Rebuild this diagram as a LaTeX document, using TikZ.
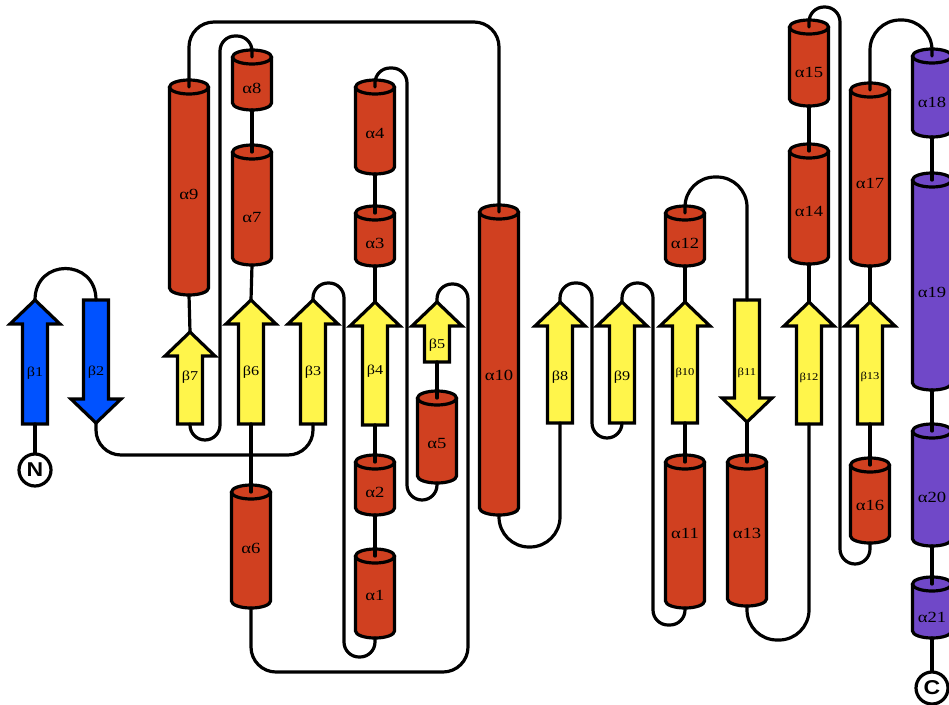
\documentclass[tikz,border=0pt]{standalone}
\usepackage{fontspec}
\setmainfont{Liberation Serif}
\newfontfamily\labf[FakeStretch=1.2]{Liberation Serif}
\newfontfamily\termf[FakeStretch=1.15]{Liberation Sans}
\definecolor{hred}{RGB}{208,64,32}
\definecolor{hpur}{RGB}{112,72,200}
\definecolor{sblu}{RGB}{0,82,255}
\definecolor{syel}{RGB}{255,245,75}
\tikzset{
 outl/.style={line width=3.2pt, line join=miter, draw=black},
 conn/.style={line width=3.2pt, line cap=round, draw=black},
 hbox/.style={minimum width=39pt, inner sep=0pt, outer sep=0pt},
 sbox/.style={minimum width=50pt, inner sep=0pt, outer sep=0pt},
 alab/.style={font=\labf\fontsize{15.5}{15.5}\selectfont, inner sep=0pt},
 slab/.style={font=\labf\fontsize{13.5}{13.5}\selectfont, inner sep=0pt},
 term/.style={circle, draw, line width=3.2pt, fill=white, minimum size=32pt, inner sep=0pt, font=\termf\bfseries\fontsize{20}{20}\selectfont}
}
\newcommand\smb[1]{{\fontsize{10.5}{10.5}\selectfont #1}}
% helix: name, x, ytop, ybottom, label, colour, label y
\newcommand\hlx[7]{%
  \pgfmathsetmacro\hlxb{#4-7}%
  \fill[#6] ({#2-19.5},#3) -- ({#2-19.5},\hlxb) .. controls ({#2-19.5},{\hlxb+3.9}) and ({#2-10.8},{\hlxb+7}) .. (#2,{\hlxb+7}) .. controls ({#2+10.8},{\hlxb+7}) and ({#2+19.5},{\hlxb+3.9}) .. ({#2+19.5},\hlxb) -- ({#2+19.5},#3) -- cycle;
  \draw[outl] ({#2-19.5},#3) -- ({#2-19.5},\hlxb) .. controls ({#2-19.5},{\hlxb+3.9}) and ({#2-10.8},{\hlxb+7}) .. (#2,{\hlxb+7}) .. controls ({#2+10.8},{\hlxb+7}) and ({#2+19.5},{\hlxb+3.9}) .. ({#2+19.5},\hlxb) -- ({#2+19.5},#3);
  \draw[outl,fill=#6] (#2,#3) ellipse[x radius=19.5,y radius=7];
  \node[hbox,minimum height={#4-#3}] (#1) at (#2,{(#3+#4)/2}) {};
  \node[alab] at (#2,#7) {#5};
}
% strand up: name, x, ytip, ybottom, label, colour, label y
\newcommand\stup[7]{%
  \draw[outl,fill=#6] (#2,#3) -- ({#2+25},{#3+24}) -- ({#2+12.5},{#3+24}) -- ({#2+12.5},#4) -- ({#2-12.5},#4) -- ({#2-12.5},{#3+24}) -- ({#2-25},{#3+24}) -- cycle;
  \node[sbox,minimum height={#4-#3}] (#1) at (#2,{(#3+#4)/2}) {};
  \node[slab] at (#2,#7) {#5};
}
% strand down: name, x, ytop, ytip, label, colour, label y
\newcommand\stdn[7]{%
  \draw[outl,fill=#6] (#2,#4) -- ({#2+25},{#4-24}) -- ({#2+12.5},{#4-24}) -- ({#2+12.5},#3) -- ({#2-12.5},#3) -- ({#2-12.5},{#4-24}) -- ({#2-25},{#4-24}) -- cycle;
  \node[sbox,minimum height={#4-#3}] (#1) at (#2,{(#3+#4)/2}) {};
  \node[slab] at (#2,#7) {#5};
}
\begin{document}
\begin{tikzpicture}[x=1pt,y=-1pt]
\useasboundingbox (0,0) rectangle (949,704);
\fill[white] (0,0) rectangle (949,704);
% helices
\hlx{a9}{189}{87}{295}{α9}{hred}{194}
\hlx{a8}{252}{57}{110}{α8}{hred}{88}
\hlx{a7}{252}{152}{265}{α7}{hred}{217}
\hlx{a4}{375}{87}{174}{α4}{hred}{133}
\hlx{a3}{375}{213}{266}{α3}{hred}{243}
\hlx{a10}{499}{212}{515}{α10}{hred}{375}
\hlx{a5}{437}{398}{483}{α5}{hred}{443}
\hlx{a6}{251}{492}{608}{α6}{hred}{548}
\hlx{a2}{375}{462}{515}{α2}{hred}{492}
\hlx{a1}{375}{556}{638}{α1}{hred}{595}
\hlx{a11}{685}{462}{608}{α11}{hred}{533}
\hlx{a12}{685}{213}{266}{α12}{hred}{243}
\hlx{a13}{747}{462}{606}{α13}{hred}{533}
\hlx{a14}{809}{151}{264}{α14}{hred}{211}
\hlx{a15}{809}{27}{106}{α15}{hred}{72}
\hlx{a16}{870}{465}{543}{α16}{hred}{505}
\hlx{a17}{870}{90}{266}{α17}{hred}{183}
\hlx{a18}{932}{56}{137}{α18}{hpur}{102}
\hlx{a19}{932}{180}{390}{α19}{hpur}{292}
\hlx{a20}{932}{431}{546}{α20}{hpur}{497}
\hlx{a21}{932}{584}{638}{α21}{hpur}{617}
% strands
\stup{b1}{35}{300}{424}{β1}{sblu}{373}
\stdn{b2}{96}{300}{423}{β2}{sblu}{372}
\stup{b7}{190}{332}{424}{β7}{syel}{377}
\stup{b6}{251}{300}{424}{β6}{syel}{372}
\stup{b3}{313}{300}{424}{β3}{syel}{372}
\stup{b4}{375}{302}{425}{β4}{syel}{371}
\stup{b5}{437}{302}{362}{β5}{syel}{345}
\stup{b8}{560}{302}{423}{β8}{syel}{377}
\stup{b9}{622}{302}{423}{β9}{syel}{377}
\stup{b10}{685}{302}{423}{\smb{β10}}{syel}{373}
\stdn{b11}{747}{300}{422}{\smb{β11}}{syel}{373}
\stup{b12}{809}{302}{424}{\smb{β12}}{syel}{378}
\stup{b13}{870}{302}{424}{\smb{β13}}{syel}{377}
% termini
\node[term] (N) at (35,470) {N};
\node[term] (C) at (932,688) {C};
% connectors
\draw[conn] (b1.south) -- (N);
\draw[conn] (b1.north) .. controls +(0,-42) and +(0,-42) .. (b2.north);
\draw[conn,rounded corners=25] (b2.south) -- (96,455) -- (313,455) -- (b3.south);
\draw[conn,rounded corners=15] (b3.north) -- (313,283) -- (344,283) -- (344,657) -- (375,657) -- (a1.south);
\draw[conn] (a1.north) -- (a2.south);
\draw[conn] (a2.north) -- (b4.south);
\draw[conn] (b4.north) -- (a3.south);
\draw[conn] (a3.north) -- (a4.south);
\draw[conn,rounded corners=15] (a4.north) -- (375,68) -- (407,68) -- (407,500) -- (437,500) -- (a5.south);
\draw[conn] (a5.north) -- (b5.south);
\draw[conn,rounded corners=15] (b5.north) -- (437,284) -- (468,284) [rounded corners=25] -- (468,672) -- (251,672) -- (a6.south);
\draw[conn] (a6.north) -- (b6.south);
\draw[conn] (b6.north) -- (a7.south);
\draw[conn] (a7.north) -- (a8.south);
\draw[conn,rounded corners=15] (a8.north) -- (252,36) -- (220,36) -- (220,440) -- (190,440) -- (b7.south);
\draw[conn] (b7.north) -- (a9.south);
\draw[conn,rounded corners=25] (a9.north) -- (189,22) -- (499,22) -- (a10.north);
\draw[conn,rounded corners=30] (a10.south) -- (499,547) -- (560,547) -- (b8.south);
\draw[conn,rounded corners=15] (b8.north) -- (560,283) -- (592,283) -- (592,438) -- (622,438) -- (b9.south);
\draw[conn,rounded corners=15] (b9.north) -- (622,283) -- (653,283) -- (653,625) -- (685,625) -- (a11.south);
\draw[conn] (a11.north) -- (b10.south);
\draw[conn] (b10.north) -- (a12.south);
\draw[conn,rounded corners=30] (a12.north) -- (685,177) -- (747,177) -- (b11.north);
\draw[conn] (b11.south) -- (a13.north);
\draw[conn,rounded corners=30] (a13.south) -- (747,640) -- (809,640) -- (b12.south);
\draw[conn] (b12.north) -- (a14.south);
\draw[conn] (a14.north) -- (a15.south);
\draw[conn,rounded corners=15] (a15.north) -- (809,7) -- (840,7) -- (840,564) -- (870,564) -- (a16.south);
\draw[conn] (a16.north) -- (b13.south);
\draw[conn] (b13.north) -- (a17.south);
\draw[conn,rounded corners=30] (a17.north) -- (870,20) -- (932,20) -- (a18.north);
\draw[conn] (a18.south) -- (a19.north);
\draw[conn] (a19.south) -- (a20.north);
\draw[conn] (a20.south) -- (a21.north);
\draw[conn] (a21.south) -- (C);
\end{tikzpicture}
\end{document}
